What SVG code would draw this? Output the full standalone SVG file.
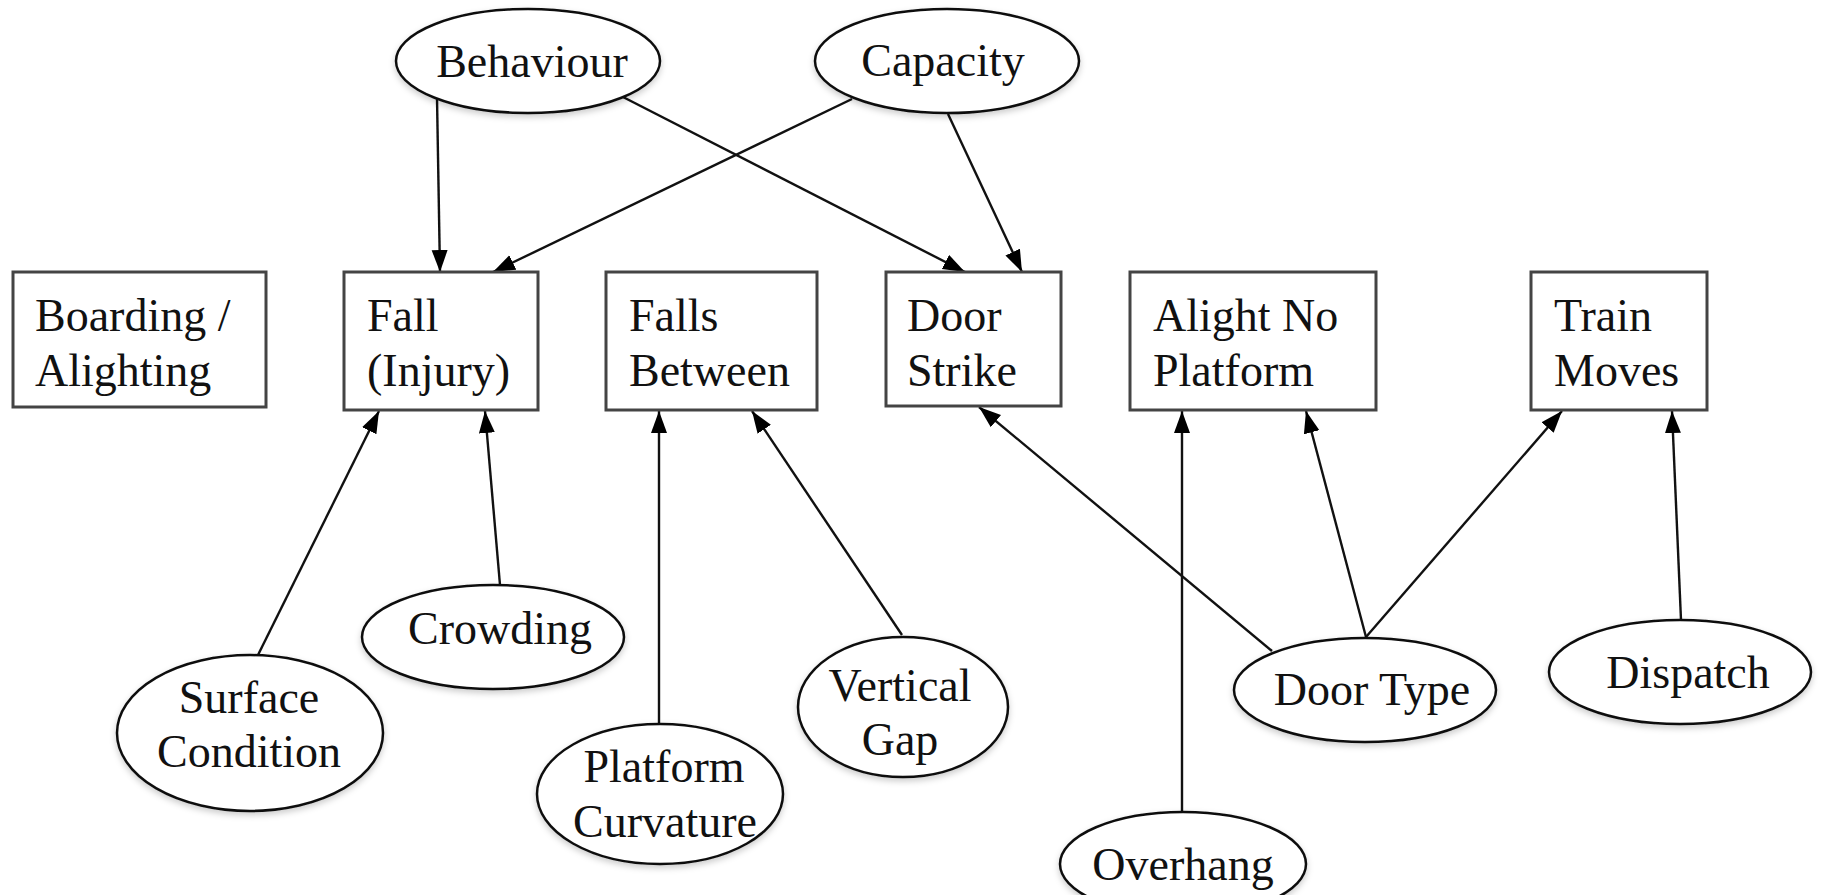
<svg xmlns="http://www.w3.org/2000/svg" width="1822" height="895" viewBox="0 0 1822 895">
<style>
text{font-family:"Liberation Serif","Times New Roman",serif;font-size:46px;fill:#111}
.box{fill:#fff;stroke:#444;stroke-width:3}
.ell{fill:#fff;stroke:#111;stroke-width:2.5}
.c{text-anchor:middle}
.edge{stroke:#111;stroke-width:2.4;fill:none;marker-end:url(#ah)}
</style>
<defs>
<marker id="ah" markerUnits="userSpaceOnUse" markerWidth="24" markerHeight="18" refX="22" refY="8" orient="auto">
<path d="M0,0 L22,8 L0,16 z" fill="#000"/>
</marker>
<filter id="sh" x="-10%" y="-10%" width="120%" height="130%">
<feDropShadow dx="0" dy="3" stdDeviation="3" flood-color="#000" flood-opacity="0.2"/>
</filter>
</defs>
<rect width="1822" height="895" fill="#fff"/>
<g id="connectors">
<line class="edge" x1="437" y1="98" x2="440" y2="272"/>
<line class="edge" x1="623" y1="97" x2="965" y2="272"/>
<line class="edge" x1="852" y1="99" x2="493" y2="272"/>
<line class="edge" x1="948" y1="114" x2="1022" y2="272"/>
<line class="edge" x1="258" y1="655" x2="379" y2="411"/>
<line class="edge" x1="500" y1="585" x2="485" y2="411"/>
<line class="edge" x1="659" y1="724" x2="659" y2="411"/>
<line class="edge" x1="902" y1="635" x2="752" y2="411"/>
<line class="edge" x1="1272" y1="651" x2="979" y2="407"/>
<line class="edge" x1="1182" y1="812" x2="1182" y2="411"/>
<line class="edge" x1="1366" y1="637" x2="1306" y2="411"/>
<line class="edge" x1="1366" y1="637" x2="1562" y2="411"/>
<line class="edge" x1="1681" y1="620" x2="1672" y2="411"/>
</g>
<g id="behaviour"><ellipse class="ell" filter="url(#sh)" cx="528" cy="61" rx="132" ry="52"/><text class="c" x="532" y="77">Behaviour</text></g>
<g id="capacity"><ellipse class="ell" filter="url(#sh)" cx="947" cy="61" rx="132" ry="52"/><text class="c" x="943" y="76">Capacity</text></g>
<g id="boarding"><rect class="box" x="13" y="272" width="253" height="135"/><text x="35" y="331">Boarding /</text><text x="35" y="386">Alighting</text></g>
<g id="fall"><rect class="box" x="344" y="272" width="194" height="138"/><text x="367" y="331">Fall</text><text x="367" y="386">(Injury)</text></g>
<g id="falls-between"><rect class="box" x="606" y="272" width="211" height="138"/><text x="629" y="331">Falls</text><text x="629" y="386">Between</text></g>
<g id="door-strike"><rect class="box" x="886" y="272" width="175" height="134"/><text x="907" y="331">Door</text><text x="907" y="386">Strike</text></g>
<g id="alight"><rect class="box" x="1130" y="272" width="246" height="138"/><text x="1153" y="331">Alight No</text><text x="1153" y="386">Platform</text></g>
<g id="train-moves"><rect class="box" x="1531" y="272" width="176" height="138"/><text x="1554" y="331">Train</text><text x="1554" y="386">Moves</text></g>
<g id="surface"><ellipse class="ell" filter="url(#sh)" cx="250" cy="733" rx="133" ry="78"/><text class="c" x="249" y="713">Surface</text><text class="c" x="249" y="767">Condition</text></g>
<g id="crowding"><ellipse class="ell" filter="url(#sh)" cx="493" cy="637" rx="131" ry="52"/><text class="c" x="500" y="644">Crowding</text></g>
<g id="platform-curvature"><ellipse class="ell" filter="url(#sh)" cx="660" cy="794" rx="123" ry="70"/><text class="c" x="664" y="782">Platform</text><text class="c" x="665" y="837">Curvature</text></g>
<g id="vertical-gap"><ellipse class="ell" filter="url(#sh)" cx="903" cy="707" rx="105" ry="70"/><text class="c" x="900" y="701">Vertical</text><text class="c" x="900" y="755">Gap</text></g>
<g id="door-type"><ellipse class="ell" filter="url(#sh)" cx="1365" cy="690" rx="131" ry="52"/><text class="c" x="1372" y="705">Door Type</text></g>
<g id="dispatch"><ellipse class="ell" filter="url(#sh)" cx="1680" cy="672" rx="131" ry="52"/><text class="c" x="1688" y="688">Dispatch</text></g>
<g id="overhang"><ellipse class="ell" filter="url(#sh)" cx="1183" cy="864" rx="123" ry="52"/><text class="c" x="1183" y="880">Overhang</text></g>
</svg>
